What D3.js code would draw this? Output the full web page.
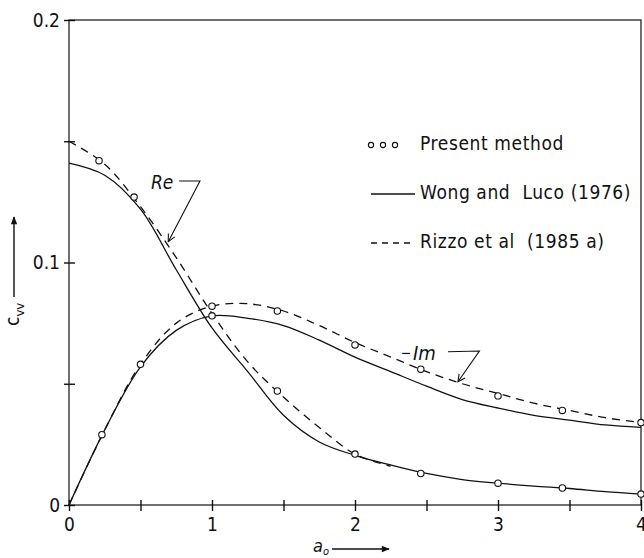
<!DOCTYPE html>
<html>
<head>
<meta charset="utf-8">
<script src="https://cdn.jsdelivr.net/npm/d3@7"></script>
<style>
    body { margin: 0; background: #fff; }
    #chart { width: 644px; height: 558px; }
    text { font-family: "Liberation Sans Narrow", "DejaVu Sans Condensed", "DejaVu Sans", sans-serif; fill: #111; }
</style>
</head>
<body>
<div id="chart"></div>
<script>
// frequency a_o where the curves were read
const aGrid = [0, 0.25, 0.5, 0.75, 1.0, 1.25, 1.5, 1.75, 2.0, 2.25, 2.5, 2.75, 3.0, 3.25, 3.5, 3.75, 4.0];

// Wong and Luco (1976), solid
const reWongLuco = [0.141, 0.136, 0.122, 0.097, 0.073, 0.055, 0.037, 0.026, 0.0205, 0.0165, 0.013, 0.0105, 0.009, 0.0078, 0.0068, 0.0055, 0.0045];
const imWongLuco = [0, 0.031, 0.057, 0.072, 0.078, 0.077, 0.074, 0.068, 0.061, 0.055, 0.049, 0.0435, 0.040, 0.037, 0.035, 0.033, 0.032];

// Rizzo et al (1985 a), dashed
const aRizzoRe = [0, 0.25, 0.5, 0.75, 1.0, 1.25, 1.5, 1.75, 2.0, 2.25];
const reRizzo = [0.150, 0.1405, 0.123, 0.102, 0.079, 0.059, 0.0445, 0.032, 0.021, 0.016];
const imRizzo = [0, 0.031, 0.058, 0.075, 0.082, 0.083, 0.080, 0.074, 0.067, 0.061, 0.055, 0.050, 0.046, 0.042, 0.039, 0.036, 0.034];

// Present method, circles
const aPresentRe = [0.21, 0.455, 1.0, 1.457, 2.0, 2.46, 3.0, 3.45, 4.0];
const rePresent = [0.142, 0.127, 0.078, 0.047, 0.021, 0.013, 0.009, 0.007, 0.0045];
const aPresentIm = [0.23, 0.5, 1.0, 1.457, 2.0, 2.46, 3.0, 3.45, 4.0];
const imPresent = [0.029, 0.058, 0.082, 0.080, 0.066, 0.056, 0.045, 0.039, 0.034];

const xTicks = [0, 0.5, 1, 1.5, 2, 2.5, 3, 3.5, 4];
const xTickLabels = ["0", "", "1", "", "2", "", "3", "", "4"];
const yTicks = [0, 0.05, 0.1, 0.15, 0.2];
const yTickLabels = ["0", "", "0.1", "", "0.2"];

const legendLabels = ["Present method", "Wong and  Luco (1976)", "Rizzo et al  (1985 a)"];

class CvvChart {
    constructor(parentElement) {
        this.parentElement = parentElement;
        this.initVis();
    }

    initVis() {
        let vis = this;

        vis.margin = { top: 20, right: 3, bottom: 53, left: 69 };
        vis.outerWidth = 644;
        vis.outerHeight = 558;
        vis.width = vis.outerWidth - vis.margin.left - vis.margin.right;
        vis.height = vis.outerHeight - vis.margin.top - vis.margin.bottom;

        vis.root = d3.select("#" + vis.parentElement)
            .append("svg")
            .attr("width", vis.outerWidth)
            .attr("height", vis.outerHeight);

        let defs = vis.root.append("defs");
        defs.append("marker")
            .attr("id", "open-head")
            .attr("viewBox", "0 0 10 10")
            .attr("refX", 9).attr("refY", 5)
            .attr("markerWidth", 9).attr("markerHeight", 9)
            .attr("markerUnits", "userSpaceOnUse")
            .attr("orient", "auto")
            .append("path")
            .attr("d", "M1,1 L9,5 L1,9")
            .attr("fill", "none")
            .attr("stroke", "#111")
            .attr("stroke-width", 1.2);
        defs.append("marker")
            .attr("id", "solid-head")
            .attr("viewBox", "0 0 10 10")
            .attr("refX", 9).attr("refY", 5)
            .attr("markerWidth", 12).attr("markerHeight", 8)
            .attr("markerUnits", "userSpaceOnUse")
            .attr("orient", "auto")
            .append("path")
            .attr("d", "M0,1 L10,5 L0,9 Z")
            .attr("fill", "#111");

        vis.svg = vis.root.append("g")
            .attr("transform", "translate(" + vis.margin.left + "," + vis.margin.top + ")");

        vis.x = d3.scaleLinear().domain([0, 4]).range([0, vis.width]);
        vis.y = d3.scaleLinear().domain([0, 0.2]).range([vis.height, 0]);

        vis.line = d3.line()
            .x(d => vis.x(d[0]))
            .y(d => vis.y(d[1]))
            .curve(d3.curveCatmullRom.alpha(0.5));

        vis.drawAxes();
        vis.drawCurves();
        vis.drawAnnotations();
        vis.drawLegend();
    }

    drawAxes() {
        let vis = this;

        // frame
        vis.svg.append("rect")
            .attr("width", vis.width)
            .attr("height", vis.height)
            .attr("fill", "none")
            .attr("stroke", "#111")
            .attr("stroke-width", 1.2);

        let xAxis = d3.axisBottom(vis.x)
            .tickValues(xTicks)
            .tickSize(11)
            .tickPadding(4)
            .tickFormat((d, i) => xTickLabels[i]);

        let gx = vis.svg.append("g")
            .attr("class", "x-axis")
            .attr("transform", "translate(0," + (vis.height - 5) + ")")
            .call(xAxis);
        gx.select(".domain").remove();
        gx.selectAll("line").attr("stroke", "#111").attr("stroke-width", 1.4);
        gx.selectAll("text")
            .attr("y", 18)
            .style("font-size", "19px")
            .attr("fill", "#111");

        let yAxis = d3.axisLeft(vis.y)
            .tickValues(yTicks)
            .tickSize(11)
            .tickPadding(3)
            .tickFormat((d, i) => yTickLabels[i]);

        let gy = vis.svg.append("g")
            .attr("class", "y-axis")
            .attr("transform", "translate(6,0)")
            .call(yAxis);
        gy.select(".domain").remove();
        gy.selectAll("line").attr("stroke", "#111").attr("stroke-width", 1.4);
        gy.selectAll("text")
            .attr("x", -15)
            .style("font-size", "19px")
            .attr("fill", "#111");

        // x axis title a_o with arrow
        let xt = vis.root.append("text")
            .attr("x", 313)
            .attr("y", 552)
            .style("font-size", "18px")
            .style("font-style", "italic");
        xt.append("tspan").text("a");
        xt.append("tspan").attr("dy", 3).style("font-size", "11px").text("o");

        vis.root.append("line")
            .attr("x1", 332).attr("y1", 549)
            .attr("x2", 389).attr("y2", 549)
            .attr("stroke", "#111")
            .attr("stroke-width", 1.4)
            .attr("marker-end", "url(#solid-head)");

        // y axis title c_vv with arrow
        let yt = vis.root.append("text")
            .attr("transform", "translate(19,326) rotate(-90)")
            .style("font-size", "19px");
        yt.append("tspan").text("c");
        yt.append("tspan").attr("dy", 5).style("font-size", "13px").text("vv");

        vis.root.append("line")
            .attr("x1", 14).attr("y1", 297)
            .attr("x2", 14).attr("y2", 217)
            .attr("stroke", "#111")
            .attr("stroke-width", 1.4)
            .attr("marker-end", "url(#solid-head)");
    }

    drawCurves() {
        let vis = this;

        let series = [
            { values: d3.zip(aGrid, reWongLuco), dash: null },
            { values: d3.zip(aGrid, imWongLuco), dash: null },
            { values: d3.zip(aRizzoRe, reRizzo), dash: "8,6" },
            { values: d3.zip(aGrid, imRizzo), dash: "8,6" }
        ];

        vis.svg.selectAll(".curve")
            .data(series)
            .enter()
            .append("path")
            .attr("class", "curve")
            .attr("d", d => vis.line(d.values))
            .attr("fill", "none")
            .attr("stroke", "#111")
            .attr("stroke-width", 1.3)
            .attr("stroke-dasharray", d => d.dash);

        let points = d3.zip(aPresentRe, rePresent).concat(d3.zip(aPresentIm, imPresent));

        vis.svg.selectAll(".present")
            .data(points)
            .enter()
            .append("circle")
            .attr("class", "present")
            .attr("cx", d => vis.x(d[0]))
            .attr("cy", d => vis.y(d[1]))
            .attr("r", 3.2)
            .attr("fill", "#fff")
            .attr("stroke", "#111")
            .attr("stroke-width", 1.1);
    }

    drawAnnotations() {
        let vis = this;

        // Re label and pointer
        vis.svg.append("text")
            .attr("x", vis.x(0.573))
            .attr("y", vis.y(0.1305))
            .style("font-size", "19px")
            .style("font-style", "italic")
            .text("Re");

        vis.svg.append("path")
            .attr("d", d3.line()([
                [vis.x(0.77), vis.y(0.1336)],
                [vis.x(0.916), vis.y(0.1336)],
                [vis.x(0.694), vis.y(0.1086)]
            ]))
            .attr("fill", "none")
            .attr("stroke", "#111")
            .attr("stroke-width", 1.1)
            .attr("marker-end", "url(#open-head)");

        // Im label and pointer
        vis.svg.append("line")
            .attr("x1", vis.x(2.33)).attr("y1", vis.y(0.0625))
            .attr("x2", vis.x(2.385)).attr("y2", vis.y(0.0625))
            .attr("stroke", "#111")
            .attr("stroke-width", 1.2);

        vis.svg.append("text")
            .attr("x", vis.x(2.405))
            .attr("y", vis.y(0.0598))
            .style("font-size", "20px")
            .style("font-style", "italic")
            .text("Im");

        vis.svg.append("path")
            .attr("d", d3.line()([
                [vis.x(2.65), vis.y(0.0632)],
                [vis.x(2.87), vis.y(0.0635)],
                [vis.x(2.72), vis.y(0.0508)]
            ]))
            .attr("fill", "none")
            .attr("stroke", "#111")
            .attr("stroke-width", 1.1)
            .attr("marker-end", "url(#open-head)");
    }

    drawLegend() {
        let vis = this;

        let legend = vis.root.append("g")
            .attr("class", "legend")
            .attr("transform", "translate(371,145)");

        legend.selectAll(".legend-dot")
            .data([0, 12, 24])
            .enter()
            .append("circle")
            .attr("class", "legend-dot")
            .attr("cx", d => d)
            .attr("cy", 0)
            .attr("r", 2.6)
            .attr("fill", "#fff")
            .attr("stroke", "#111")
            .attr("stroke-width", 1.1);

        legend.append("line")
            .attr("x1", 0).attr("x2", 44)
            .attr("y1", 49).attr("y2", 49)
            .attr("stroke", "#111")
            .attr("stroke-width", 1.3);

        legend.append("line")
            .attr("x1", 0).attr("x2", 43)
            .attr("y1", 98).attr("y2", 98)
            .attr("stroke", "#111")
            .attr("stroke-width", 1.3)
            .attr("stroke-dasharray", "6,5");

        legend.selectAll(".legend-label")
            .data(legendLabels)
            .enter()
            .append("text")
            .attr("class", "legend-label")
            .attr("x", 49)
            .attr("y", (d, i) => 5 + i * 49)
            .attr("xml:space", "preserve")
            .style("white-space", "pre")
            .style("font-size", "19px")
            .style("letter-spacing", "0.6px")
            .text(d => d);
    }
}

new CvvChart("chart");
</script>
</body>
</html>
